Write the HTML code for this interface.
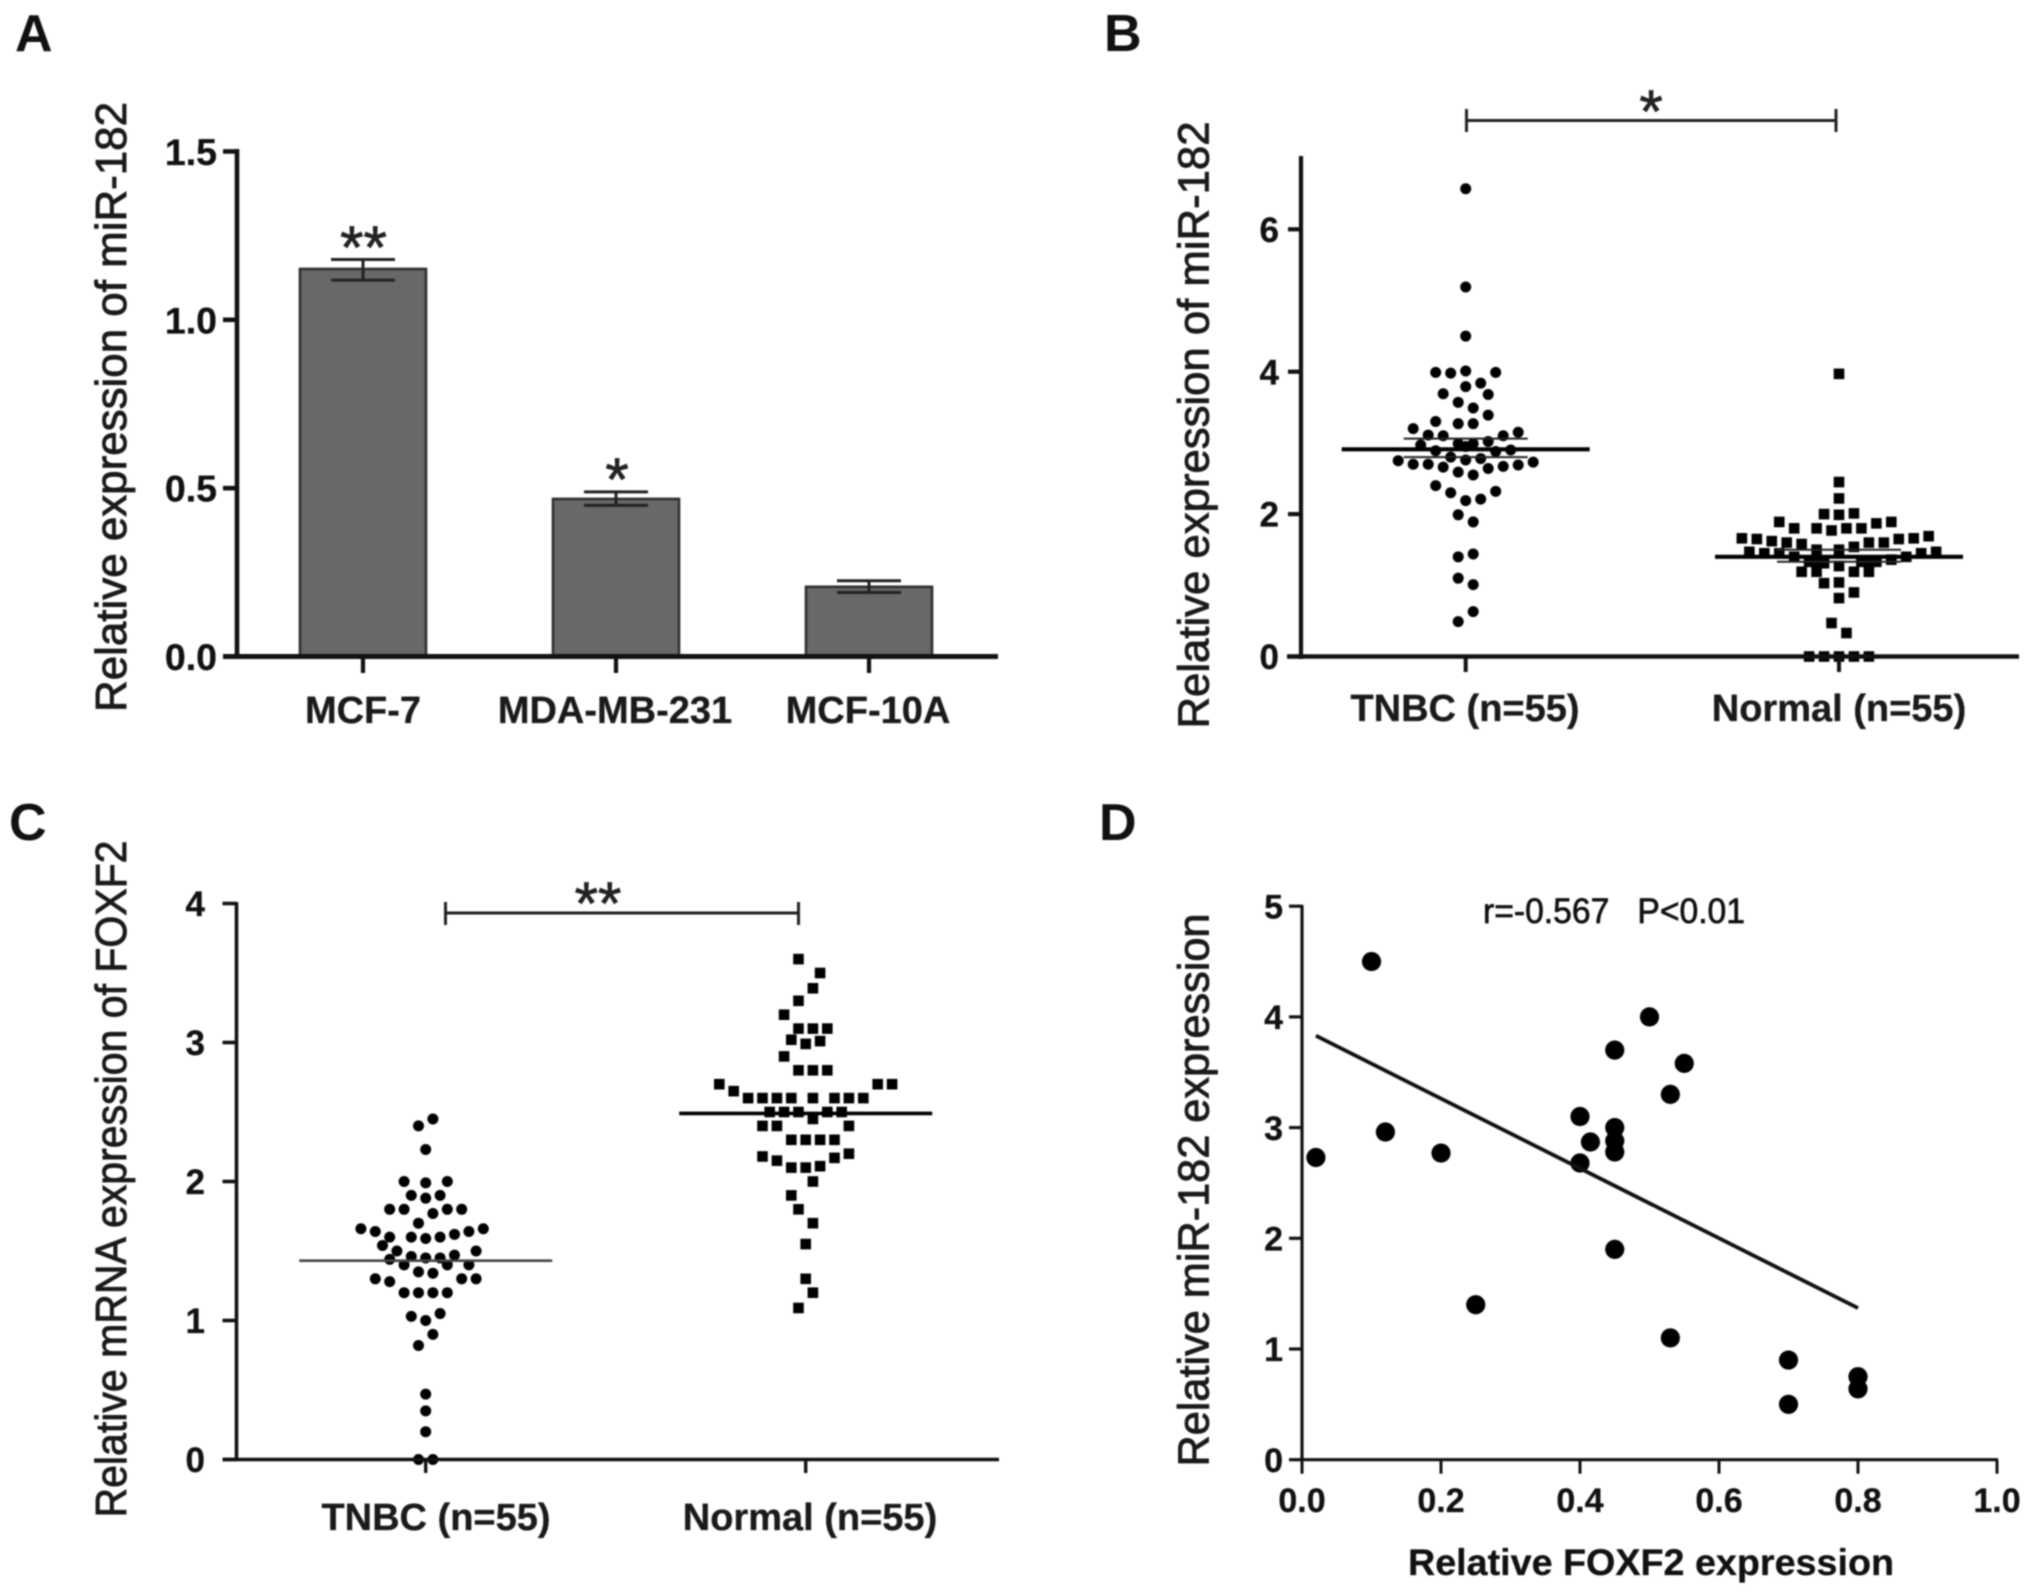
<!DOCTYPE html>
<html lang="en">
<head>
<meta charset="utf-8">
<title>miR-182 and FOXF2 expression panels</title>
<style>
html,body{margin:0;padding:0;background:#fff;}
body{width:2031px;height:1596px;overflow:hidden;}
svg{display:block;filter:blur(0.7px);}
text{font-family:"Liberation Sans",sans-serif;fill:#111;}
.letter{font-size:52px;font-weight:700;}
.title{font-size:43.5px;font-weight:400;text-anchor:middle;fill:#1a1a1a;stroke:#1a1a1a;stroke-width:.9px;}
.cat{font-size:38px;font-weight:700;text-anchor:middle;fill:#1a1a1a;stroke:#1a1a1a;stroke-width:.3px;}
.star{font-size:60px;font-weight:400;text-anchor:middle;fill:#222;stroke:#222;stroke-width:.8px;}
</style>
</head>
<body>
<svg id="figure" xmlns="http://www.w3.org/2000/svg" width="2031" height="1596" viewBox="0 0 2031 1596">
  <rect width="2031" height="1596" fill="#fff"/>

  <text class="letter" x="15" y="51">A</text>
  <text class="letter" x="1104" y="51">B</text>
  <text class="letter" x="9" y="840">C</text>
  <text class="letter" x="1099" y="840">D</text>

  <text class="title" transform="rotate(-90 126 407)" x="126" y="407" textLength="610" lengthAdjust="spacingAndGlyphs">Relative expression of miR-182</text>
  <text class="title" transform="rotate(-90 1208.5 425)" x="1208.5" y="425" textLength="607" lengthAdjust="spacingAndGlyphs">Relative expression of miR-182</text>
  <text class="title" transform="rotate(-90 126 1179)" x="126" y="1179" textLength="677" lengthAdjust="spacingAndGlyphs">Relative mRNA expression of FOXF2</text>
  <text class="title" transform="rotate(-90 1208.5 1190)" x="1208.5" y="1190" textLength="553" lengthAdjust="spacingAndGlyphs">Relative miR-182 expression</text>
  <text x="1651" y="1575" font-size="37.5" font-weight="700" text-anchor="middle" stroke="#111" stroke-width=".3" textLength="486" lengthAdjust="spacingAndGlyphs">Relative FOXF2 expression</text>
  <text x="1483" y="923" font-size="35" stroke="#111" stroke-width=".7" textLength="262" lengthAdjust="spacingAndGlyphs" xml:space="preserve">r=-0.567   P&lt;0.01</text>

  <text class="star" x="363.5" y="268">**</text>
  <text class="star" x="617" y="500">*</text>
  <text class="star" x="1651" y="132">*</text>
  <text class="star" x="598" y="924">**</text>
</svg>

<script>
// Panel A
const aCategories = ['MCF-7', 'MDA-MB-231', 'MCF-10A'];
const aValues = [1.151, 0.468, 0.207];
const aErrHigh = [1.179, 0.489, 0.225];
const aErrLow = [1.118, 0.449, 0.19];
const aTicks = [0, 0.5, 1, 1.5];
const aTickLabels = ['0.0', '0.5', '1.0', '1.5'];

// Panel B
const bCategories = ['TNBC (n=55)', 'Normal (n=55)'];
const bTicks = [0, 2, 4, 6];
const bTickLabels = ['0', '2', '4', '6'];
const bTnbcValues = [6.57,5.19,4.50,3.99,3.98,4.01,3.99,3.79,3.84,3.69,3.68,3.57,3.49,3.39,3.30,3.27,3.27,3.20,3.11,3.10,3.10,3.15,2.97,2.99,2.99,3.02,2.89,2.88,2.90,2.95,2.80,2.76,2.78,2.75,2.70,2.70,2.66,2.64,2.67,2.69,2.73,2.59,2.55,2.40,2.30,2.32,2.19,2.21,1.99,1.89,1.40,1.44,1.10,1.01,0.63,0.49];
const bTnbcLanes = [0,0,0,-4,-2,0,4,0,2,-3,3,-1,1,3,-4,-1,1,-7,-5,-3,5,7,-6,-1,1,3,-4,4,6,0,-2,0,2,-9,-7,-5,-3,3,5,7,9,-1,1,-4,-2,4,0,2,-1,1,-1,1,-1,1,1,-1];
const bNormalValues = [3.97,2.45,2.22,2.00,1.99,2.01,1.89,1.80,1.80,1.77,1.80,1.80,1.87,1.89,1.66,1.65,1.62,1.60,1.58,1.50,1.50,1.54,1.60,1.60,1.65,1.66,1.69,1.47,1.45,1.45,1.40,1.45,1.47,1.40,1.33,1.31,1.31,1.27,1.33,1.31,1.33,1.36,1.19,1.19,1.19,1.19,1.03,1.04,0.90,0.82,0.47,0.33,0,0,0,0,0];
const bNormalLanes = [0,0,0,-2,0,2,-8,-6,-3,-1,1,3,5,7,-13,-11,-9,-7,-5,-3,0,2,4,6,8,10,12,-12,-10,-8,-6,11,13,9,-4,-3,-2,0,3,4,5,7,-5,-3,2,4,-2,0,2,0,-1,1,-4,-2,0,2,4];
const bMeans = [2.91, 1.40];
const bErrHigh = [3.06, 1.50];
const bErrLow = [2.80, 1.33];

// Panel C
const cCategories = ['TNBC (n=55)', 'Normal (n=55)'];
const cTicks = [0, 1, 2, 3, 4];
const cTickLabels = ['0', '1', '2', '3', '4'];
const cTnbcValues = [2.45,2.40,2.23,2.00,1.99,2.00,1.90,1.88,1.90,1.80,1.80,1.77,1.80,1.80,1.70,1.66,1.64,1.60,1.60,1.59,1.60,1.62,1.64,1.66,1.54,1.50,1.50,1.46,1.45,1.45,1.47,1.44,1.40,1.40,1.40,1.35,1.34,1.30,1.28,1.30,1.30,1.20,1.20,1.20,1.20,1.03,1.00,1.05,0.90,0.82,0.47,0.35,0.20,0,0];
const cTnbcLanes = [1,-1,0,-3,0,3,-2,0,2,-5,-3,1,3,5,-1,-9,-7,-5,-2,0,2,4,6,8,-6,-4,7,-2,0,2,4,-5,-3,3,6,-1,1,-7,-5,5,7,-3,-1,1,3,-2,0,2,1,-1,0,0,0,-1,1];
const cNormalValues = [3.60,3.50,3.39,3.30,3.20,3.10,3.10,3.10,3.02,2.99,3.01,2.90,2.80,2.80,2.80,2.70,2.65,2.70,2.70,2.60,2.60,2.60,2.60,2.60,2.60,2.60,2.60,2.50,2.50,2.50,2.50,2.50,2.45,2.40,2.40,2.40,2.30,2.30,2.30,2.30,2.18,2.15,2.17,2.20,2.10,2.10,2.11,2.00,1.90,1.80,1.70,1.55,1.30,1.20,1.09];
const cNormalLanes = [-1,2,1,-1,-3,-1,1,3,-2,0,2,-3,-1,1,3,-12,-10,10,12,-8,-6,-4,-2,1,4,6,8,-5,-3,-1,3,5,1,-6,-4,6,-2,0,2,4,-6,-4,4,6,-2,0,2,1,-2,-1,1,0,0,1,-1];
const cMeans = [1.43, 2.49];

// Panel D
const dXTicks = [0, 0.2, 0.4, 0.6, 0.8, 1];
const dXTickLabels = ['0.0', '0.2', '0.4', '0.6', '0.8', '1.0'];
const dYTicks = [0, 1, 2, 3, 4, 5];
const dYTickLabels = ['0', '1', '2', '3', '4', '5'];
const dPointsX = [0.02,0.1,0.12,0.2,0.25,0.4,0.4,0.415,0.45,0.45,0.45,0.45,0.45,0.5,0.53,0.53,0.55,0.7,0.7,0.8,0.8];
const dPointsY = [2.73,4.5,2.96,2.77,1.4,3.1,2.68,2.87,3.7,3.0,2.88,2.78,1.9,4.0,3.3,1.1,3.58,0.9,0.5,0.75,0.64];
const dFitX = [0.02, 0.8];
const dFitY = [3.83, 1.37];

const NS = 'http://www.w3.org/2000/svg';
const svg = document.getElementById('figure');

function mk(tag, attrs, parent) {
  const el = document.createElementNS(NS, tag);
  for (const k in attrs) el.setAttribute(k, attrs[k]);
  (parent || svg).appendChild(el);
  return el;
}
function line(parent, x1, y1, x2, y2, w, color, name) {
  const el = mk('line', {x1: x1, y1: y1, x2: x2, y2: y2, stroke: color || '#111', 'stroke-width': w}, parent);
  
  
  return el;
}
function group(name) {
  const g = mk('g', {}, svg);
  
  
  return g;
}
function yAxis(g, ticks, labels, yFn, opt) {
  line(g, opt.x, opt.top, opt.x, opt.bottom, opt.w, '#111', 'y-axis-line');
  ticks.forEach(function (t, i) {
    const y = yFn(t);
    line(g, opt.x - opt.len, y, opt.x, y, opt.tickW || opt.w, '#111', 'y-tick');
    const tx = mk('text', {x: opt.labelRight, y: y + opt.font * 0.36, 'font-size': opt.font, 'font-weight': 700, 'text-anchor': 'end', stroke: '#111', 'stroke-width': 0.3}, g);
    
    
    tx.textContent = labels[i];
  });
}
function xCategoryAxis(g, cats, centers, labelCenters, opt) {
  line(g, opt.left, opt.y, opt.right, opt.y, opt.w, '#111', 'x-axis-line');
  cats.forEach(function (c, i) {
    line(g, centers[i], opt.y, centers[i], opt.tickEnd, opt.tickW, '#111', 'x-tick');
    const tx = mk('text', {class: 'cat', x: labelCenters[i], y: opt.labelY}, g);
    
    
    tx.textContent = c;
  });
}
function swarm(g, values, lanes, cx, step, yFn, shape) {
  values.forEach(function (v, i) {
    const x = cx + lanes[i] * step;
    const y = yFn(v);
    let el;
    if (shape === 'circle') {
      el = mk('circle', {cx: x, cy: y, r: 5.5, fill: '#000'}, g);
    } else {
      el = mk('rect', {x: x - 5.3, y: y - 5.3, width: 10.6, height: 10.6, fill: '#000'}, g);
    }
    
    
  });
}
function bracket(g, x1, x2, y, capTop, capBottom) {
  line(g, x1, y, x2, y, 3, '#222', 'significance-bracket');
  line(g, x1, capTop, x1, capBottom, 3, '#222', 'significance-bracket-cap');
  line(g, x2, capTop, x2, capBottom, 3, '#222', 'significance-bracket-cap');
}

// ---------- Panel A ----------
(function () {
  const g = group('panel-a-bar-chart');
  const y = function (v) { return 656.5 - v * 336.7; };
  const centers = [363, 616, 869];
  const halfBar = 63;
  const halfCap = 32;
  aValues.forEach(function (v, i) {
    const bar = mk('rect', {x: centers[i] - halfBar, y: y(v), width: halfBar * 2, height: y(0) - y(v), fill: '#686868', stroke: '#2f2f2f', 'stroke-width': 2.6}, g);
    
    
    line(g, centers[i], y(aErrHigh[i]), centers[i], y(aErrLow[i]), 3, '#222', 'error-bar');
    line(g, centers[i] - halfCap, y(aErrHigh[i]), centers[i] + halfCap, y(aErrHigh[i]), 3, '#222', 'error-cap-high');
    line(g, centers[i] - halfCap, y(aErrLow[i]), centers[i] + halfCap, y(aErrLow[i]), 3, '#222', 'error-cap-low');
  });
  yAxis(g, aTicks, aTickLabels, y, {x: 237, top: 149, bottom: 659, w: 4.6, len: 14, labelRight: 217, font: 37.5});
  xCategoryAxis(g, aCategories, centers, [363, 615, 868], {left: 223, right: 998, y: 656.5, w: 5, tickW: 4.2, tickEnd: 673, labelY: 723});
})();

// ---------- Panel B ----------
(function () {
  const g = group('panel-b-dot-plot');
  const y = function (v) { return 656.5 - v * 71.2; };
  const centers = [1465.7, 1839];
  swarm(g, bTnbcValues, bTnbcLanes, centers[0], 7.5, y, 'circle');
  swarm(g, bNormalValues, bNormalLanes, centers[1], 7.47, y, 'square');
  bMeans.forEach(function (m, i) {
    line(g, centers[i] - 124, y(m), centers[i] + 124, y(m), 4.2, '#000', 'mean-line');
    line(g, centers[i] - 62, y(bErrHigh[i]), centers[i] + 62, y(bErrHigh[i]), 2, '#222', 'error-cap-high');
    line(g, centers[i] - 62, y(bErrLow[i]), centers[i] + 62, y(bErrLow[i]), 2, '#222', 'error-cap-low');
  });
  yAxis(g, bTicks, bTickLabels, y, {x: 1301, top: 156, bottom: 659, w: 4.2, len: 13, labelRight: 1279, font: 35});
  xCategoryAxis(g, bCategories, centers, [1465, 1839], {left: 1287, right: 2019, y: 656.5, w: 4.6, tickW: 4, tickEnd: 672, labelY: 721});
  bracket(g, 1466.5, 1836, 120.5, 109, 132);
})();

// ---------- Panel C ----------
(function () {
  const g = group('panel-c-dot-plot');
  const y = function (v) { return 1459.5 - v * 139; };
  const centers = [425.7, 805.7];
  swarm(g, cTnbcValues, cTnbcLanes, centers[0], 7.2, y, 'circle');
  swarm(g, cNormalValues, cNormalLanes, centers[1], 7.2, y, 'square');
  line(g, centers[0] - 126.5, y(cMeans[0]), centers[0] + 126.5, y(cMeans[0]), 2.6, '#444', 'mean-line');
  line(g, centers[1] - 126.5, y(cMeans[1]), centers[1] + 126.5, y(cMeans[1]), 3.6, '#000', 'mean-line');
  yAxis(g, cTicks, cTickLabels, y, {x: 236.5, top: 902, bottom: 1461, w: 3.6, len: 14, labelRight: 205, font: 35});
  xCategoryAxis(g, cCategories, centers, [436, 810], {left: 223, right: 999, y: 1459.5, w: 3.6, tickW: 3.4, tickEnd: 1473, labelY: 1530});
  bracket(g, 445.5, 798.5, 913, 902, 925);
})();

// ---------- Panel D ----------
(function () {
  const g = group('panel-d-scatter-plot');
  const x = function (v) { return 1302 + v * 695; };
  const y = function (v) { return 1459.7 - v * 110.7; };
  yAxis(g, dYTicks, dYTickLabels, y, {x: x(0), top: 905, bottom: 1461, w: 3.2, len: 13, labelRight: 1283, font: 34});
  line(g, x(0) - 1, y(0), x(1) + 1, y(0), 3.2, '#111', 'x-axis-line');
  dXTicks.forEach(function (t, i) {
    line(g, x(t), y(0), x(t), y(0) + 14, 3, '#111', 'x-tick');
    const tx = mk('text', {x: x(t), y: 1512, 'font-size': 34, 'font-weight': 700, 'text-anchor': 'middle', stroke: '#111', 'stroke-width': 0.3}, g);
    
    
    tx.textContent = dXTickLabels[i];
  });
  dPointsX.forEach(function (px, i) {
    const c = mk('circle', {cx: x(px), cy: y(dPointsY[i]), r: 9.6, fill: '#000'}, g);
    
    
  });
  line(g, x(dFitX[0]), y(dFitY[0]), x(dFitX[1]), y(dFitY[1]), 3.8, '#111', 'regression-line');
})();
</script>
</body>
</html>
